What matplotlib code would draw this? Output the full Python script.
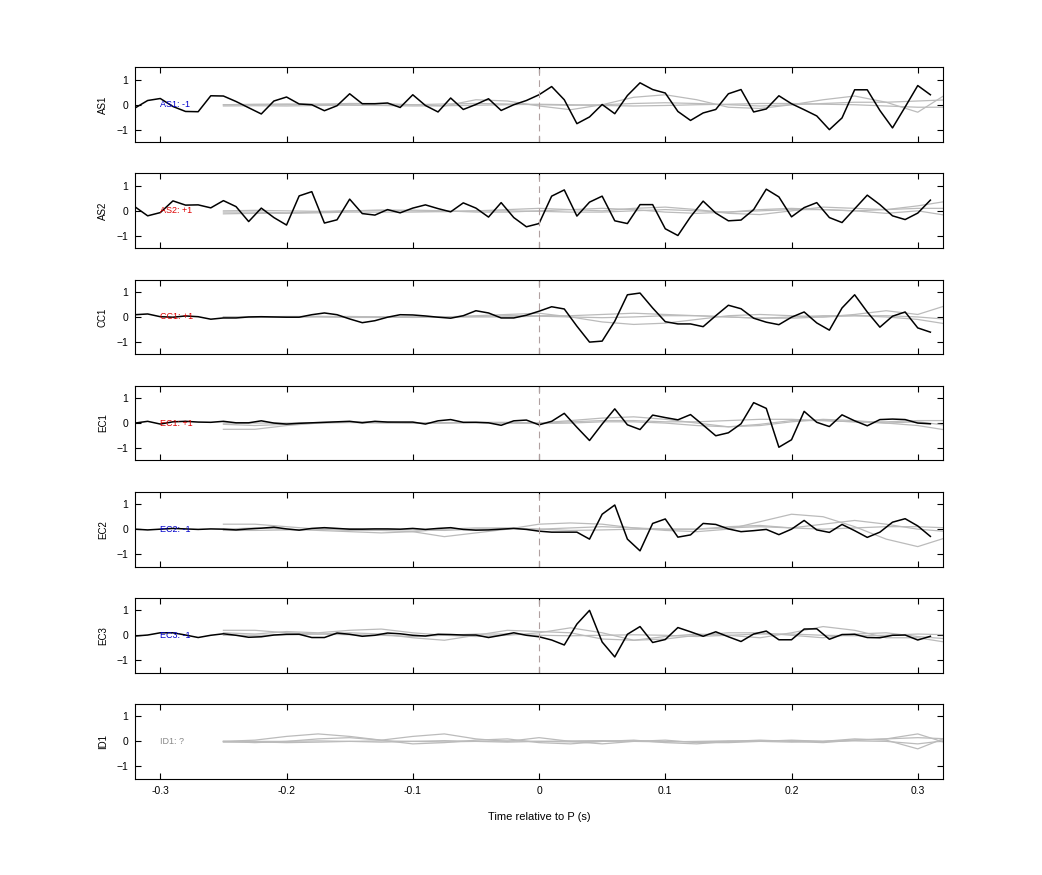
import numpy as np
import matplotlib
matplotlib.use('Agg')
import matplotlib.pyplot as plt

plt.rcParams['font.family'] = ['Liberation Sans', 'DejaVu Sans']

# station names, polarity labels and label colours
stations = ['AS1', 'AS2', 'CC1', 'EC1', 'EC2', 'EC3', 'ID1']
pol_labels = ['AS1: -1', 'AS2: +1', 'CC1: +1', 'EC1: +1', 'EC2: -1', 'EC3: -1', 'ID1: ?']
pol_colors = ['#0000cc', '#dd0000', '#dd0000', '#dd0000', '#0000cc', '#0000cc', '#888888']

# observed (black) traces, 0.01 s sampling starting at -0.32 s
t0_obs = -0.32
dt_obs = 0.01
obs = {
    'AS1': [-0.13, 0.17, 0.25, -0.07, -0.27, -0.28, 0.36, 0.35, 0.13, -0.12, -0.37, 0.15, 0.31, 0.03, 0.0, -0.24,
            -0.04, 0.44, 0.04, 0.04, 0.07, -0.11, 0.4, -0.03, -0.29, 0.27, -0.19, 0.01, 0.24, -0.23, 0.0, 0.17,
            0.4, 0.73, 0.2, -0.76, -0.49, 0.01, -0.36, 0.37, 0.88, 0.61, 0.47, -0.27, -0.63, -0.33, -0.19, 0.44,
            0.61, -0.29, -0.17, 0.36, 0.04, -0.2, -0.45, -1.0, -0.53, 0.6, 0.6, -0.23, -0.93, -0.09, 0.77, 0.4],
    'AS2': [0.16, -0.2, -0.07, 0.4, 0.23, 0.24, 0.12, 0.41, 0.17, -0.43, 0.11, -0.27, -0.57, 0.6, 0.77, -0.49,
            -0.36, 0.47, -0.11, -0.17, 0.05, -0.08, 0.11, 0.24, 0.09, -0.04, 0.32, 0.11, -0.25, 0.33, -0.27, -0.64,
            -0.51, 0.59, 0.84, -0.21, 0.35, 0.59, -0.4, -0.51, 0.25, 0.25, -0.72, -0.99, -0.24, 0.39, -0.09, -0.4,
            -0.37, 0.05, 0.87, 0.56, -0.24, 0.13, 0.33, -0.27, -0.47, 0.08, 0.63, 0.25, -0.2, -0.35, -0.09, 0.43],
    'CC1': [0.09, 0.12, 0.01, -0.01, 0.04, 0.01, -0.09, -0.04, -0.04, 0.0, 0.01, 0.0, -0.01, -0.01, 0.09, 0.16,
            0.09, -0.08, -0.23, -0.15, -0.01, 0.09, 0.08, 0.04, -0.01, -0.05, 0.05, 0.25, 0.16, -0.04, -0.04, 0.07,
            0.23, 0.41, 0.32, -0.37, -1.01, -0.97, -0.17, 0.89, 0.96, 0.36, -0.19, -0.28, -0.28, -0.39, 0.05, 0.47,
            0.33, -0.05, -0.21, -0.31, -0.01, 0.2, -0.24, -0.53, 0.36, 0.89, 0.2, -0.41, 0.03, 0.2, -0.44, -0.61],
    'EC1': [0.0, 0.07, -0.04, 0.05, 0.07, 0.04, 0.03, 0.07, 0.01, 0.01, 0.09, 0.0, -0.04, -0.01, 0.01, 0.03,
            0.05, 0.07, 0.01, 0.07, 0.04, 0.04, 0.04, -0.04, 0.09, 0.14, 0.03, 0.03, 0.01, -0.09, 0.09, 0.12,
            -0.07, 0.07, 0.39, -0.17, -0.7, -0.04, 0.57, -0.07, -0.26, 0.32, 0.22, 0.13, 0.34, -0.08, -0.51, -0.39,
            -0.03, 0.82, 0.59, -0.97, -0.67, 0.47, 0.03, -0.14, 0.33, 0.09, -0.11, 0.14, 0.16, 0.14, 0.0, -0.03],
    'EC2': [0.0, -0.03, 0.0, 0.03, 0.01, -0.01, 0.01, 0.0, -0.03, 0.01, 0.04, 0.08, 0.01, -0.04, 0.03, 0.06,
            0.03, 0.0, 0.0, 0.01, 0.01, 0.0, 0.03, -0.01, 0.03, 0.06, -0.01, -0.04, -0.03, 0.0, 0.03, -0.01,
            -0.08, -0.12, -0.12, -0.12, -0.4, 0.6, 0.97, -0.4, -0.87, 0.23, 0.41, -0.32, -0.23, 0.23, 0.19, 0.01,
            -0.1, -0.06, -0.01, -0.22, 0.0, 0.35, -0.03, -0.13, 0.19, -0.06, -0.33, -0.12, 0.28, 0.42, 0.13, -0.29],
    'EC3': [-0.03, 0.01, 0.1, 0.1, 0.01, -0.09, 0.0, 0.06, 0.0, -0.08, -0.06, 0.01, 0.04, 0.04, -0.09, -0.09,
            0.09, 0.04, -0.04, 0.0, 0.09, 0.06, 0.0, -0.03, 0.04, 0.03, 0.01, 0.01, -0.09, 0.0, 0.1, 0.0,
            -0.06, -0.19, -0.39, 0.45, 1.0, -0.27, -0.87, 0.04, 0.35, -0.29, -0.17, 0.31, 0.14, -0.04, 0.14, -0.06,
            -0.25, 0.05, 0.17, -0.18, -0.18, 0.25, 0.26, -0.16, 0.03, 0.04, -0.09, -0.1, 0.0, 0.01, -0.19, -0.04],
}

# synthetic (grey) traces, 0.025 s sampling starting at -0.25 s
t0_syn = -0.25
dt_syn = 0.025
syn = {
    'AS1': [[0, 0, 0, 0.02, 0.05, 0.05, 0, -0.05, 0.2, 0.15, -0.05, -0.2, 0, 0.3, 0.4, 0.2, -0.1, -0.15, 0, 0.2, 0.35, 0.1, -0.3, 0.5],
            [0, 0.02, 0.03, 0.02, 0, -0.02, 0, 0.03, 0.05, 0.03, 0, -0.02, 0, 0.05, 0.08, 0.05, 0, -0.05, 0, 0.05, 0.1, 0.1, 0.15, 0.2],
            [-0.05, -0.04, -0.05, -0.03, -0.02, -0.03, -0.05, -0.04, -0.02, 0, 0.02, 0, -0.03, -0.05, -0.03, 0, 0.02, 0.05, 0.05, 0.02, 0, -0.05, -0.1, -0.1]],
    'AS2': [[-0.05, -0.05, -0.08, -0.05, 0, 0.03, 0, -0.03, 0, 0.05, 0.1, 0.05, 0, 0.1, 0.15, 0.05, -0.1, -0.15, 0, 0.15, 0.1, 0.05, 0.2, 0.4],
            [0, 0.02, 0, -0.02, 0, 0.02, 0.03, 0, -0.05, -0.05, 0, 0.05, 0.1, 0.05, -0.05, -0.1, -0.05, 0.05, 0.1, 0.05, 0, -0.1, 0, -0.2],
            [-0.12, -0.1, -0.1, -0.08, -0.05, -0.05, -0.05, -0.03, 0, 0, -0.02, -0.05, -0.05, 0, 0.05, 0, -0.05, 0, 0.05, 0.05, 0, 0.05, 0.1, 0.1]],
    'CC1': [[0, 0, 0, 0.02, 0.02, 0, -0.02, 0, 0.05, 0.1, 0.15, 0, -0.2, -0.3, -0.25, -0.1, 0.05, 0.1, 0.05, 0, 0.1, 0.25, 0.1, 0.5],
            [0, 0, 0.02, 0.02, 0, 0, 0, 0, 0.02, 0.05, 0.05, 0.05, 0.1, 0.15, 0.1, 0.05, 0, -0.05, 0, 0.05, 0.05, 0, -0.1, -0.3],
            [-0.02, -0.02, 0, 0, -0.02, -0.02, 0, 0, 0, 0, 0.03, 0, -0.03, 0, 0.05, 0.05, 0, -0.05, -0.05, 0, 0.05, 0.05, 0, -0.1]],
    'EC1': [[-0.25, -0.25, -0.1, 0, 0.05, 0.03, 0, 0, 0.03, 0.03, 0, 0.1, 0.2, 0.25, 0.15, 0, -0.15, -0.1, 0.05, 0.15, 0.1, 0, -0.1, -0.3],
            [-0.05, -0.1, -0.05, 0, 0.02, 0, 0, 0.02, 0.02, 0, -0.02, 0, 0.05, 0.05, 0, -0.1, -0.15, -0.05, 0.1, 0.1, 0.05, 0, 0.05, -0.1],
            [0, 0, 0, 0.02, 0.05, 0.05, 0, 0, 0.02, 0, 0, 0.05, 0.1, 0.1, 0.05, 0.05, 0.1, 0.15, 0.15, 0.1, 0.05, 0.05, 0.1, 0.1]],
    'EC2': [[0.2, 0.2, 0.1, 0, -0.05, -0.05, -0.1, -0.3, -0.15, 0, 0.2, 0.25, 0.2, 0.05, -0.05, -0.1, 0, 0.3, 0.6, 0.5, 0.1, -0.4, -0.7, -0.3],
            [0, 0.05, 0, -0.05, -0.1, -0.15, -0.1, 0, 0.05, 0.05, 0, 0.05, 0.1, 0.05, 0, 0, 0.1, 0.15, 0.05, 0.2, 0.35, 0.2, 0, -0.1],
            [-0.05, -0.05, -0.03, 0, 0.02, 0, -0.03, -0.05, 0, 0.03, 0, -0.05, -0.03, 0, 0, 0, 0.05, 0.1, 0.05, 0, 0.05, 0.1, 0.1, 0.05]],
    'EC3': [[0.2, 0.2, 0.1, 0.05, 0.1, 0.05, -0.1, -0.2, 0, 0.2, 0.15, 0.1, -0.15, -0.2, -0.05, 0.05, 0, -0.1, 0.1, 0.35, 0.2, -0.1, -0.1, -0.3],
            [0.1, 0.05, 0.15, 0.1, 0.2, 0.25, 0.1, 0, -0.05, 0, 0.1, 0.3, 0.1, -0.2, -0.15, 0, 0.1, 0.1, 0, -0.1, 0.05, 0.1, -0.05, -0.15],
            [0, 0, 0.02, 0.05, 0.02, 0, -0.05, 0, 0.05, 0.05, 0, -0.02, 0, 0.02, 0, -0.05, 0, 0.05, 0.05, 0, -0.02, 0, 0.05, 0.02]],
    'ID1': [[0, 0.05, 0.2, 0.3, 0.2, 0.05, 0.2, 0.3, 0.1, 0, 0.15, 0, -0.1, 0, 0.05, -0.05, -0.05, 0, 0.05, 0, 0.1, 0.05, -0.3, 0.2],
            [0, -0.05, 0, 0.1, 0.15, 0.05, -0.1, -0.05, 0.05, 0.1, -0.05, -0.1, 0, 0.05, -0.05, -0.1, 0, 0.05, 0, -0.05, 0.05, 0.1, 0.3, -0.1],
            [-0.03, -0.02, -0.05, -0.03, 0, 0.02, 0, -0.02, 0, 0.02, 0, -0.02, 0, 0.02, 0, -0.02, 0, 0.02, 0.03, 0, 0.02, 0, -0.1, 0.05],
            [0, 0, 0, 0.02, 0, -0.03, 0, 0.03, 0, -0.03, 0, 0.02, 0.03, 0, -0.02, 0, 0.02, 0, -0.03, 0, 0.05, 0.1, 0.15, 0.1]],
}

fig, axes = plt.subplots(7, 1, figsize=(10.42, 8.75), dpi=100, sharex=True)
fig.subplots_adjust(left=0.1296, right=0.905, top=0.923, bottom=0.11, hspace=0.42)

for ax, st, lab, col in zip(axes, stations, pol_labels, pol_colors):
    for tr in syn[st]:
        ts = t0_syn + dt_syn * np.arange(len(tr))
        ax.plot(ts, tr, color='#bbbbbb', lw=0.9)
    if st in obs:
        to = t0_obs + dt_obs * np.arange(len(obs[st]))
        ax.plot(to, obs[st], color='black', lw=1.1)
        ax.axvline(0, color='#b0a0a0', lw=0.8, dashes=(6, 4))
    ax.text(-0.3, 0, lab, color=col, fontsize=6.5, va='center', ha='left')
    ax.set_xlim(-0.32, 0.32)
    ax.set_ylim(-1.5, 1.5)
    ax.set_yticks([-1, 0, 1])
    ax.set_xticks([-0.3, -0.2, -0.1, 0, 0.1, 0.2, 0.3])
    ax.set_ylabel(st, fontsize=7, labelpad=6)
    ax.tick_params(direction='in', top=True, right=True, labelsize=7.5, length=4, pad=5)

axes[-1].set_xticklabels(['-0.3', '-0.2', '-0.1', '0', '0.1', '0.2', '0.3'])
axes[-1].set_xlabel('Time relative to P (s)', fontsize=8, labelpad=12)

fig.savefig('out.png', dpi=100)
